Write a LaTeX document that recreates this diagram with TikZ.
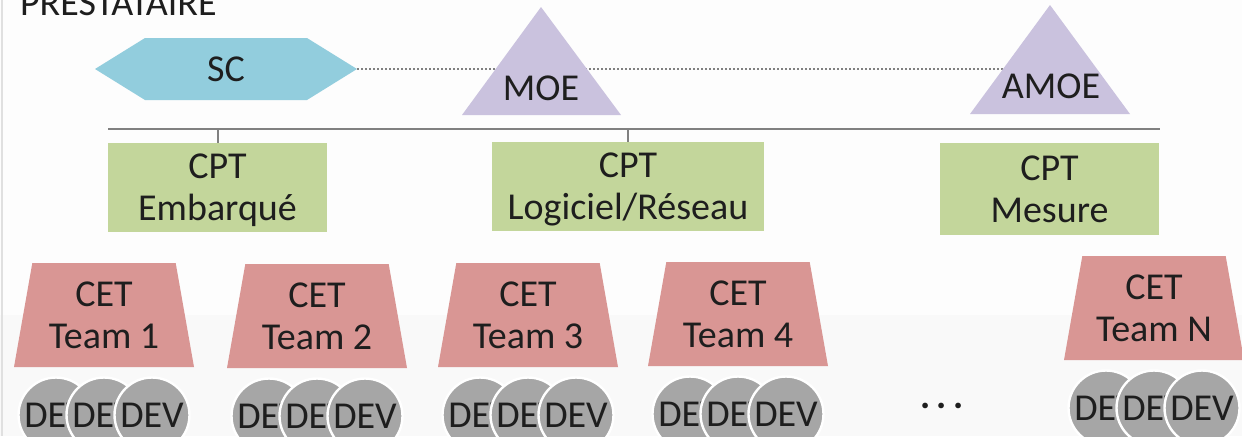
\documentclass[tikz,border=0pt]{standalone}
\usepackage{fontspec}
\setmainfont{Carlito}
\usetikzlibrary{shapes.geometric}

\definecolor{scblue}{RGB}{146,205,221}
\definecolor{moelav}{RGB}{202,194,222}
\definecolor{cptgreen}{RGB}{195,214,155}
\definecolor{cetpink}{RGB}{217,150,148}
\definecolor{devgray}{RGB}{166,166,166}
\definecolor{linegray}{RGB}{128,128,128}
\definecolor{inkc}{RGB}{30,30,30}
\definecolor{bgtop}{RGB}{253,253,253}
\definecolor{bglow}{RGB}{249,249,249}

\tikzset{
  orglabel/.style={font=\fontsize{19}{21}\selectfont, text=inkc, align=center},
  cptbox/.style={orglabel, rectangle, fill=cptgreen, minimum height=44.5pt, inner sep=0pt, text depth=0pt},
  cetbox/.style={orglabel, trapezium, trapezium angle=74.7, trapezium stretches body,
    fill=cetpink, minimum width=90pt, minimum height=52pt, inner sep=0pt},
  devball/.style={orglabel, circle, fill=devgray, draw=white, line width=1.2pt,
    minimum size=37.5pt, inner sep=0pt},
  barline/.style={draw=linegray, line width=1pt},
  dotline/.style={draw=linegray, line width=0.8pt, dash pattern=on 0.8pt off 1.2pt}
}

\begin{document}
\begin{tikzpicture}[x=0.5pt,y=-0.5pt]
\clip (0,0) rectangle (1242,436);
\fill[bgtop] (0,0) rectangle (1242,436);
\fill[bglow] (0,315) rectangle (1242,436);
\draw[black!12, line width=0.6pt] (2,0) -- (2,436);

\node[orglabel, anchor=base west] (prest) at (13,15) {PRESTATAIRE};

% top row
\coordinate (scTip) at (357,69);
\coordinate (amoeMid) at (1050,69);
\draw[dotline] (scTip) -- (amoeMid);

\fill[scblue] (95,69) -- (145,38) -- (307,38) -- (scTip) -- (307,100) -- (145,100) -- cycle;
\node[orglabel] (sc) at (226,69) {SC};

\fill[moelav] (462,115) -- (541,7) -- (621,115) -- cycle;
\node[orglabel] (moe) at (541,88) {MOE};

\fill[moelav] (970,114) -- (1050,5) -- (1130,114) -- cycle;
\node[orglabel] (amoe) at (1051,86) {AMOE};

% bar and CPT boxes
\coordinate (barL) at (108,129);
\coordinate (barR) at (1160,129);
\draw[barline] (barL) -- (barR);

\node[cptbox, minimum width=109.5pt] (cptE) at (217.5,187.5) {CPT\\Embarqué};
\node[cptbox, minimum width=136pt] (cptL) at (628,186.5) {CPT\\Logiciel/Réseau};
\node[cptbox, minimum width=109.5pt, minimum height=46pt] (cptM) at (1049.5,189) {CPT\\Mesure};

\draw[barline] (cptE.north) -- (cptE.north |- barL);
\draw[barline] (cptL.north) -- (cptL.north |- barL);

% CET teams and developers
\foreach \n/\x/\y in {1/104/315, 2/317/316, 3/528/315, 4/738/314, N/1154/308} {
  \node[cetbox] (cet\n) at (\x,\y) {CET\\Team \n};
  \foreach \k/\dx in {a/-48, b/0, c/48}
    \node[devball] (dev\n\k) at (\x+\dx,\y+100) {DEV};
}

\node[orglabel, anchor=base] (etc) at (942,408) {\textbf{.\hspace{3pt}.\hspace{3pt}.}};
\end{tikzpicture}
\end{document}
